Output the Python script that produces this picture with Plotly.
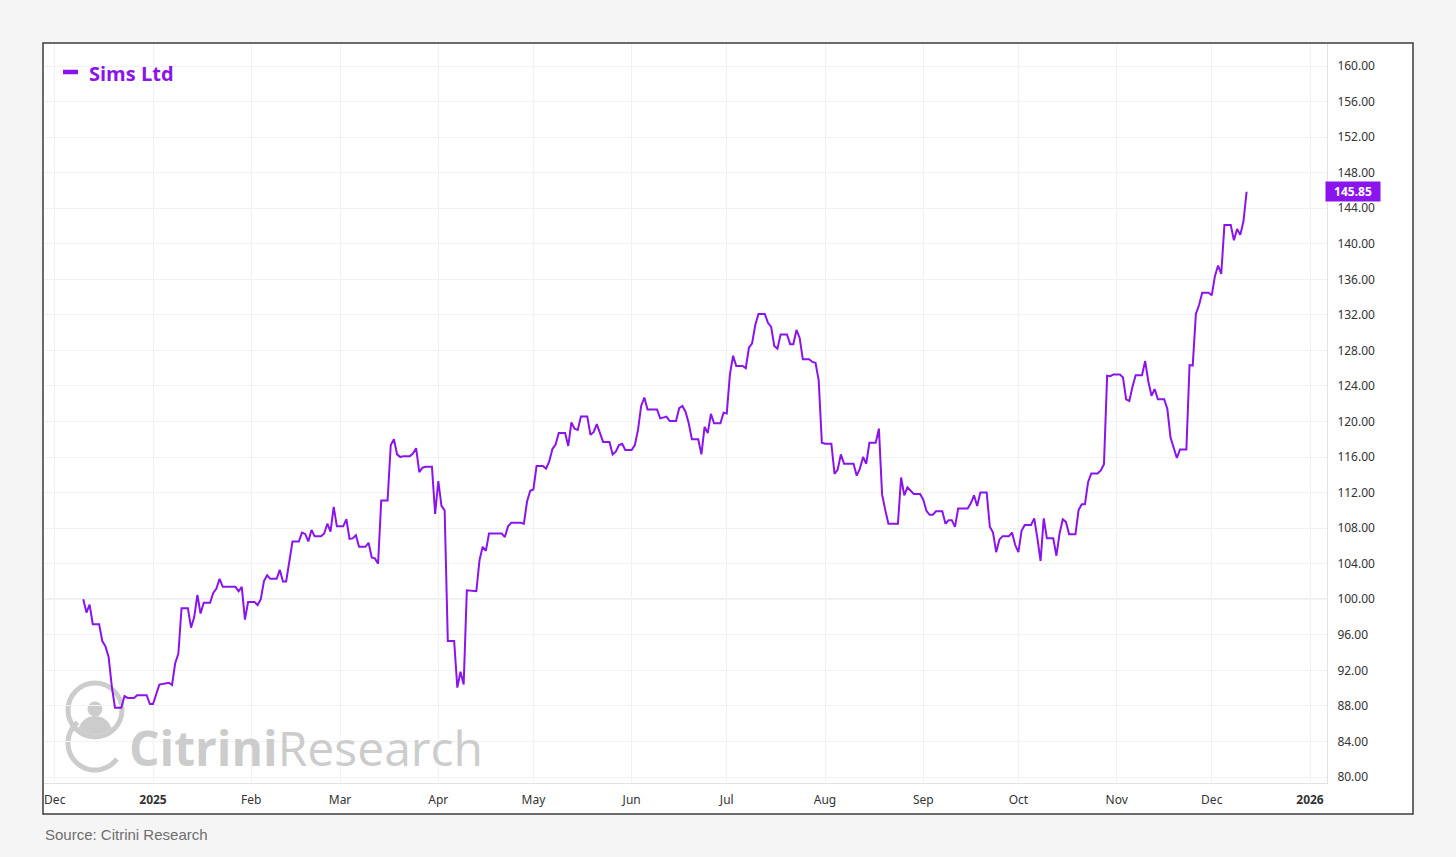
import numpy as np
import pandas as pd
import plotly.graph_objects as go

# ---------------- data ----------------
series_name = "Sims Ltd"
base_date = "2025-01-01"
# calendar-day offset from 2025-01-01 (negative = Dec 2024)
day_offset = [
    -22, -21, -20, -19, -17, -16, -15, -14, -13, -12, -10, -9, -8, -6, -5, -2, -1, 0,
    2, 4, 5, 6, 7, 8, 9, 11, 12, 13, 14, 15, 16, 18, 19, 20, 21, 22, 26, 27, 28, 29, 30,
    32, 33, 34, 35, 36, 37, 39, 40, 41, 42, 44, 46, 47, 48, 49, 50, 51, 53, 54, 55, 56, 57, 58,
    60, 61, 62, 63, 64, 65, 67, 68, 69, 70, 71, 72, 74, 75, 76, 77, 78, 79, 81, 82, 83, 84, 85, 86, 88, 89,
    90, 91, 92, 93, 95, 96, 97, 98, 99, 102, 103, 104, 105, 106, 110, 111, 112, 113, 116, 117, 118, 119,
    120, 121, 123, 124, 125, 126, 127, 128, 130, 131, 132, 133, 134, 135, 137, 138, 139, 140, 141, 142, 144,
    145, 146, 147, 148, 149,
    151, 152, 153, 154, 155, 156, 159, 160, 162, 163, 165, 166, 167, 168, 169, 170, 172, 173, 174, 175,
    176, 177, 179, 180,
    181, 182, 183, 184, 186, 187, 188, 189, 190, 191, 193, 194, 195, 196, 197, 198, 200, 201, 202, 203,
    204, 205, 207, 208, 209, 210, 211,
    212, 214, 215, 216, 217, 218, 221, 222, 223, 224, 225, 226, 228, 229, 230, 231, 232, 235, 236, 237,
    238, 240, 242,
    243, 244, 245, 246, 247, 249, 250, 251, 252, 253, 254, 257, 258, 259, 260, 261, 263, 264, 265, 266,
    267, 268, 270, 271, 272,
    273, 274, 275, 277, 278, 279, 280, 281, 282, 284, 285, 286, 287, 288, 289, 291, 292, 293, 294, 295,
    296, 298, 299, 300, 301, 302, 303,
    305, 306, 307, 308, 309, 310, 312, 313, 314, 315, 316, 317, 319, 320, 321, 322, 323, 324, 326, 327,
    328, 329, 330, 331, 333,
    334, 335, 336, 337, 338, 340, 341, 342, 343, 344, 345,
]
index_value = [
    100.0, 98.5, 99.4, 97.2, 97.2, 95.3, 94.7, 93.5, 90.2, 87.8, 87.8, 89.1, 88.9, 88.9, 89.2, 89.2, 88.2, 88.2,
    90.4, 90.5, 90.6, 90.35, 92.8, 93.9, 99.0, 99.0, 96.8, 98.0, 100.5, 98.4, 99.6, 99.6, 100.7, 101.2, 102.3, 101.4, 101.4, 100.9, 101.4, 97.7, 99.7,
    99.7, 99.35, 100.0, 102.05, 102.7, 102.3, 102.3, 103.3, 102.0, 102.0, 106.5, 106.5, 107.5, 107.35, 106.5, 107.8, 107.1, 107.1, 107.4, 108.5, 107.6, 110.4, 108.2,
    108.2, 109.0, 106.8, 106.85, 107.2, 105.9, 105.9, 106.35, 104.7, 104.6, 104.0, 111.1, 111.1, 117.35, 118.0, 116.3, 116.0, 116.1, 116.1, 116.4, 117.0, 114.3, 114.8, 114.9, 114.9, 109.6,
    113.3, 110.5, 110.0, 95.3, 95.3, 90.05, 91.85, 90.4, 101.0, 100.9, 104.4, 105.9, 105.45, 107.4, 107.4, 107.0, 108.2, 108.6, 108.6, 108.5, 111.0, 112.2,
    112.35, 115.0, 115.0, 114.7, 115.5, 116.9, 117.4, 118.7, 118.7, 117.25, 119.9, 119.2, 119.05, 120.55, 120.55, 118.5, 118.8, 119.7, 118.6, 117.7, 117.7,
    116.3, 116.6, 117.35, 117.5, 116.8,
    116.8, 117.35, 119.05, 121.75, 122.7, 121.35, 121.35, 120.35, 120.55, 120.05, 120.05, 121.5, 121.75, 121.1, 119.8, 118.0, 118.0, 116.3, 119.4, 118.7,
    120.85, 119.8, 119.8, 121.0,
    120.9, 125.3, 127.4, 126.25, 126.25, 126.0, 128.3, 128.8, 130.85, 132.1, 132.1, 131.1, 130.65, 128.5, 128.2, 129.8, 129.8, 128.7, 128.7, 130.3,
    129.4, 127.0, 127.0, 126.7, 126.6, 124.65, 117.6,
    117.5, 117.5, 114.1, 114.6, 116.3, 115.25, 115.25, 113.9, 114.7, 116.0, 115.25, 117.6, 117.6, 119.2, 111.8, 110.05, 108.5, 108.5, 113.7, 111.7,
    112.6, 111.85, 111.85,
    111.2, 109.95, 109.5, 109.5, 109.9, 109.9, 108.5, 108.9, 108.9, 108.15, 110.2, 110.2, 110.8, 111.7, 110.5, 112.0, 112.0, 108.15, 107.5, 105.3,
    106.7, 107.1, 107.1, 107.5, 106.1,
    105.3, 107.7, 108.35, 108.35, 109.1, 106.85, 104.3, 109.1, 106.85, 106.85, 104.9, 107.4, 109.0, 108.7, 107.3, 107.3, 110.05, 110.7, 110.7, 113.2,
    114.15, 114.15, 114.5, 115.2, 125.15, 125.1, 125.3,
    125.3, 124.95, 122.5, 122.3, 123.9, 125.2, 125.2, 126.8, 124.5, 122.9, 123.65, 122.5, 122.5, 121.4, 118.2, 117.05, 115.9, 116.85, 116.85, 126.35,
    126.3, 132.1, 133.1, 134.5, 134.5,
    134.2, 136.35, 137.55, 136.6, 142.1, 142.1, 140.4, 141.65, 141.0, 142.5, 145.85,
]
last_value_label = "145.85"
baseline_value = 100
month_ticks = ["2024-12-01", "2025-01-01", "2025-02-01", "2025-03-01", "2025-04-01", "2025-05-01",
               "2025-06-01", "2025-07-01", "2025-08-01", "2025-09-01", "2025-10-01", "2025-11-01",
               "2025-12-01", "2026-01-01"]
month_labels = ["Dec", "<b>2025</b>", "Feb", "Mar", "Apr", "May", "Jun", "Jul", "Aug", "Sep",
                "Oct", "Nov", "Dec", "<b>2026</b>"]
source_text = "Source: Citrini Research"

# ---------------- styling ----------------
PURPLE = "#8A14EC"
WM = "#cccccc"
W, H = 1456, 857
L, R, T, B = 44, 129, 44, 74
PW, PH = W - L - R, H - T - B


def fx(X):
    return (X - L) / PW


def fy(Y):
    return (H - B - Y) / PH


dates = pd.Timestamp(base_date) + pd.to_timedelta(day_offset, unit="D")

fig = go.Figure()
fig.add_trace(go.Scatter(x=dates, y=index_value, mode="lines", name=series_name,
                         line=dict(color=PURPLE, width=2), showlegend=False))

shapes = []
# white chart frame
shapes.append(dict(type="rect", xref="paper", yref="paper", x0=fx(43), x1=fx(1413), y0=fy(814), y1=fy(43),
                   line=dict(color="#3c3c3c", width=1.5), fillcolor="white", layer="below"))
# watermark logo (decorative)
cx, cy, r = 95, 710, 27
shapes.append(dict(type="circle", xref="paper", yref="paper", x0=fx(cx - r), x1=fx(cx + r),
                   y0=fy(cy + r), y1=fy(cy - r), line=dict(color=WM, width=5), layer="below"))
shapes.append(dict(type="circle", xref="paper", yref="paper", x0=fx(cx - 7.5), x1=fx(cx + 7.5),
                   y0=fy(cy - 1 + 7.5), y1=fy(cy - 1 - 7.5), line=dict(width=0), fillcolor=WM, layer="below"))
# shoulders
th = np.linspace(np.pi - 0.33, 0.33, 30)
dome = [(95 + 17 * np.cos(t), 733 - 17 * np.sin(t)) for t in th]
th2 = np.linspace(-0.75, -np.pi + 0.75, 20)
inner = [(cx + 24.5 * np.cos(t), cy - 24.5 * np.sin(t)) for t in th2]
pts = dome + inner
path = "M " + " L ".join(f"{fx(a):.5f},{fy(b):.5f}" for a, b in pts) + " Z"
shapes.append(dict(type="path", xref="paper", yref="paper", path=path, line=dict(width=0),
                   fillcolor=WM, layer="below"))
# lower "C" arc
th3 = np.radians(np.linspace(130, 324, 60))
arc = [(95 + 27 * np.cos(t), 743 - 27 * np.sin(t)) for t in th3]
path = "M " + " L ".join(f"{fx(a):.5f},{fy(b):.5f}" for a, b in arc)
shapes.append(dict(type="path", xref="paper", yref="paper", path=path, line=dict(color=WM, width=5),
                   layer="below"))
# baseline at 100
shapes.append(dict(type="line", xref="paper", yref="y", x0=0, x1=1, y0=baseline_value, y1=baseline_value,
                   line=dict(color="#c2c0c8", width=1), layer="below"))
# legend marker
shapes.append(dict(type="line", xref="paper", yref="paper", x0=fx(63), x1=fx(78), y0=fy(72), y1=fy(72),
                   line=dict(color=PURPLE, width=4.5)))

annotations = [
    dict(xref="paper", yref="paper", x=fx(87), y=fy(74), xanchor="left", yanchor="middle",
         text=f"<b>{series_name}</b>", showarrow=False,
         font=dict(family="Open Sans", size=20, color=PURPLE)),
    dict(xref="paper", yref="paper", x=fx(127), y=fy(747), xanchor="left", yanchor="middle",
         text="<b>Citrini</b>Research", showarrow=False,
         font=dict(family="Open Sans", size=48, color=WM)),
    dict(xref="paper", yref="y", x=fx(1353), y=index_value[-1], xanchor="center", yanchor="middle",
         text=f"<b>{last_value_label}</b>", showarrow=False, bgcolor=PURPLE, borderpad=1, width=52,
         font=dict(family="Noto Sans", size=12, color="white")),
    dict(xref="paper", yref="paper", x=fx(43), y=fy(834), xanchor="left", yanchor="middle",
         text=source_text, showarrow=False,
         font=dict(family="Liberation Sans", size=15, color="#6e6e6e")),
]

fig.update_layout(
    width=W, height=H,
    margin=dict(l=L, r=R, t=T, b=B),
    paper_bgcolor="#f5f5f5",
    plot_bgcolor="rgba(0,0,0,0)",
    shapes=shapes,
    annotations=annotations,
    showlegend=False,
    xaxis=dict(
        type="date",
        range=["2024-11-27 14:38", "2026-01-06 08:40"],
        tickvals=month_ticks, ticktext=month_labels,
        showgrid=True, gridcolor="#f2f2f2", gridwidth=1,
        showline=True, linecolor="#e2e2e2", linewidth=1,
        zeroline=False, ticks="", ticklabelstandoff=6,
        tickfont=dict(family="Noto Sans", size=12, color="#333333"),
    ),
    yaxis=dict(
        side="right",
        range=[79.325, 162.475],
        tick0=80, dtick=4, tickformat=".2f",
        showgrid=True, gridcolor="#f2f2f2", gridwidth=1,
        showline=True, linecolor="#e2e2e2", linewidth=1,
        zeroline=False, ticks="", ticklabelstandoff=7,
        tickfont=dict(family="Noto Sans", size=12, color="#333333"),
    ),
)

fig.write_html("out.html",
               config={"displayModeBar": False},
               post_script="document.body.style.margin='0px';document.body.style.background='#f5f5f5';")
